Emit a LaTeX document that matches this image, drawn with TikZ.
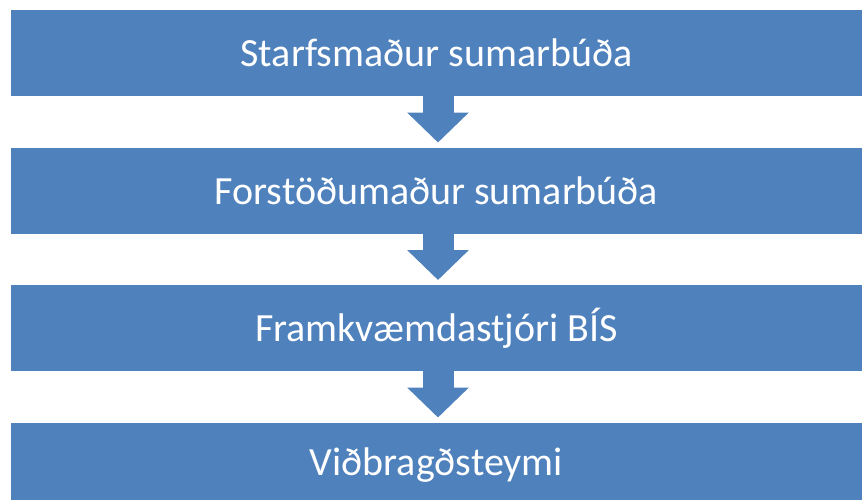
\documentclass[tikz,border=0pt]{standalone}
\usepackage{fontspec}
\setmainfont{Carlito}
\usetikzlibrary{positioning, arrows.meta}
\definecolor{officeblue}{HTML}{4F81BD}
\tikzstyle{stage} = [fill=officeblue,text=white,font=\fontsize{40}{42}\selectfont,minimum width=851pt,minimum height=86pt,inner sep=0pt,outer sep=0pt]
\tikzstyle{blockarrow} = [draw=officeblue,line width=31pt,-{Triangle[width=60pt,length=30pt]},shorten >=5pt]

\begin{document}
\begin{tikzpicture}[x=1pt,y=-1pt]
			\clip (0,0) rectangle (862,499);
			
			\node[stage] (staff) at (436.5,53) {Starfsmaður sumarbúða};
			\node[stage,below=51.5pt of staff] (head) {Forstöðumaður sumarbúða};
			\node[stage,below=51.5pt of head] (director) {Framkvæmdastjóri BÍS};
			\node[stage,below=51.5pt of director] (team) {Viðbragðsteymi};
			
			\draw[blockarrow] ([xshift=1.5pt]staff.south) -- ([xshift=1.5pt]head.north);
			\draw[blockarrow] ([xshift=1.5pt]head.south) -- ([xshift=1.5pt]director.north);
			\draw[blockarrow] ([xshift=1.5pt]director.south) -- ([xshift=1.5pt]team.north);
		\end{tikzpicture}
\end{document}
